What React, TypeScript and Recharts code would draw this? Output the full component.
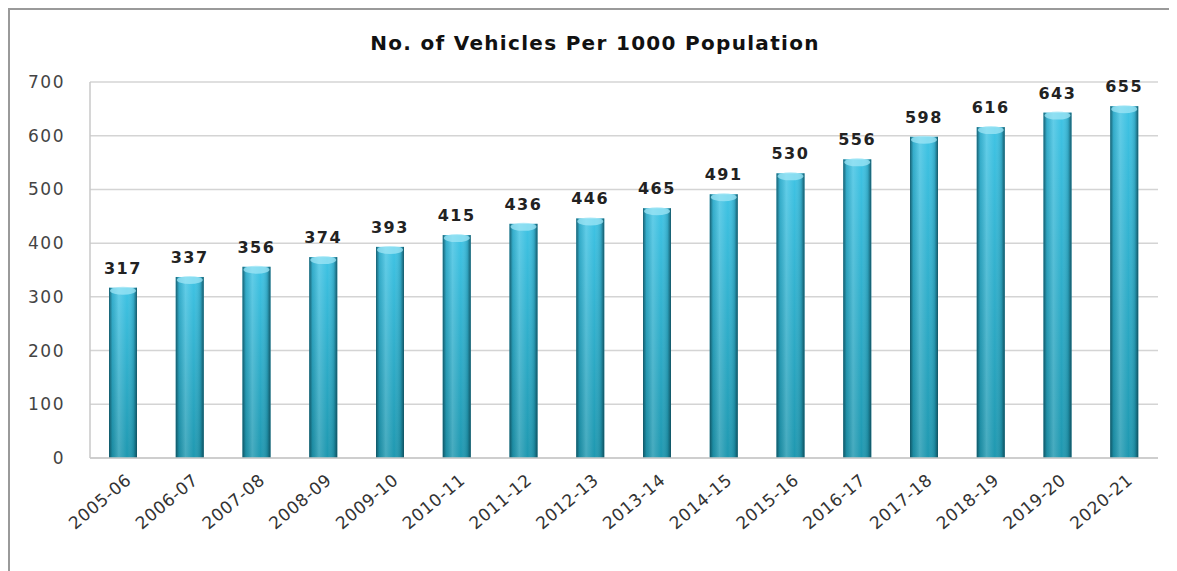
import React from 'react';
import { BarChart, Bar, XAxis, YAxis, CartesianGrid, LabelList } from 'recharts';

const years = [
  '2005-06', '2006-07', '2007-08', '2008-09', '2009-10', '2010-11', '2011-12', '2012-13',
  '2013-14', '2014-15', '2015-16', '2016-17', '2017-18', '2018-19', '2019-20', '2020-21',
];
const vehicles = [317, 337, 356, 374, 393, 415, 436, 446, 465, 491, 530, 556, 598, 616, 643, 655];
const yTicks = [0, 100, 200, 300, 400, 500, 600, 700];

const data = years.map((year, i) => ({ year, value: vehicles[i] }));

const font = '"DejaVu Sans", Verdana, sans-serif';

function Cylinder(props: any) {
  const { x, y, width, height } = props;
  if (!height || height <= 0) return null;
  return (
    <g>
      <rect x={x} y={y} width={width} height={height} fill="url(#barVert)" />
      <rect x={x} y={y} width={width} height={height} fill="url(#barHoriz)" />
      <ellipse cx={x + width / 2} cy={y + 3} rx={width / 2 - 1} ry={4} fill="#9fe6f5" opacity={0.75} />
    </g>
  );
}

function XTick(props: any) {
  const { x, y, payload } = props;
  const tx = x + 6;
  const ty = y + 12;
  return (
    <text
      x={tx}
      y={ty}
      transform={`rotate(-40, ${tx}, ${ty})`}
      textAnchor="end"
      dominantBaseline="middle"
      fontFamily={font}
      fontSize={17}
      letterSpacing={0.6}
      fill="#333"
    >
      {payload.value}
    </text>
  );
}

export default function App() {
  return (
    <div
      style={{
        position: 'relative',
        width: 1164,
        height: 600,
        borderTop: '2px solid #9a9a9a',
        borderLeft: '2px solid #9a9a9a',
        borderRight: '1px solid #d0d0d0',
        background: '#fff',
      }}
    >
      <div
        style={{
          position: 'absolute',
          left: 0,
          width: 1170,
          top: 21,
          textAlign: 'center',
          fontFamily: font,
          fontWeight: 'bold',
          fontSize: 20,
          letterSpacing: 1.3,
          color: '#111',
        }}
      >
        No. of Vehicles Per 1000 Population
      </div>
      <BarChart
        width={1162}
        height={560}
        data={data}
        margin={{ top: 72, right: 14, left: 0, bottom: 0 }}
      >
        <defs>
          <linearGradient id="barVert" x1="0" y1="0" x2="0" y2="1">
            <stop offset="0%" stopColor="#3fc3e4" />
            <stop offset="100%" stopColor="#1f98b0" />
          </linearGradient>
          <linearGradient id="barHoriz" x1="0" y1="0" x2="1" y2="0">
            <stop offset="0%" stopColor="#0b3f4c" stopOpacity={0.75} />
            <stop offset="12%" stopColor="#0b3f4c" stopOpacity={0.15} />
            <stop offset="35%" stopColor="#ffffff" stopOpacity={0.18} />
            <stop offset="65%" stopColor="#ffffff" stopOpacity={0.0} />
            <stop offset="88%" stopColor="#0b3f4c" stopOpacity={0.2} />
            <stop offset="100%" stopColor="#0b3f4c" stopOpacity={0.8} />
          </linearGradient>
        </defs>
        <CartesianGrid vertical={false} stroke="#d4d4d4" strokeWidth={1.5} />
        <XAxis
          dataKey="year"
          interval={0}
          height={112}
          tickLine={false}
          axisLine={{ stroke: '#c8c8c8', strokeWidth: 1.5 }}
          tick={<XTick />}
        />
        <YAxis
          domain={[0, 700]}
          ticks={yTicks}
          width={80}
          tickLine={false}
          tickSize={6}
          tickMargin={19}
          axisLine={{ stroke: '#c8c8c8', strokeWidth: 1.5 }}
          tick={{ fontFamily: font, fontSize: 17, fill: '#444', letterSpacing: 1.5 }}
        />
        <Bar dataKey="value" barSize={28} shape={<Cylinder />} isAnimationActive={false}>
          <LabelList
            dataKey="value"
            position="top"
            offset={14}
            fontFamily={font}
            fontWeight="bold"
            fontSize={16}
            letterSpacing={1.6}
            fill="#222"
          />
        </Bar>
      </BarChart>
    </div>
  );
}
